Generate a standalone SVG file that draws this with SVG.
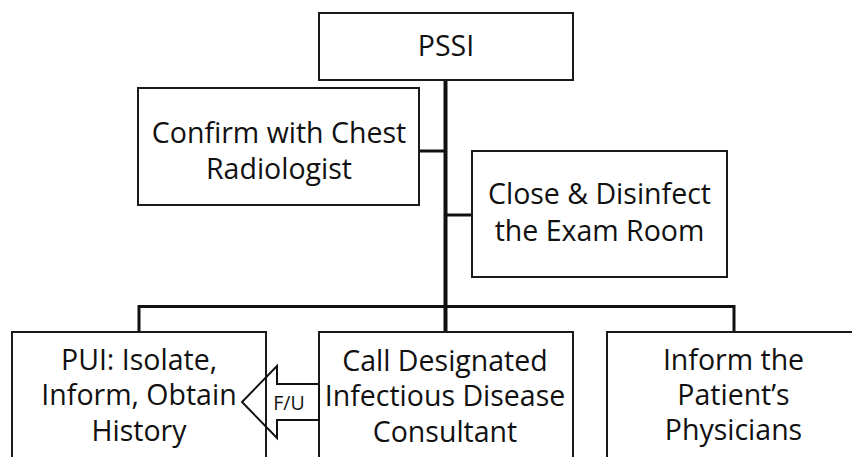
<svg xmlns="http://www.w3.org/2000/svg" width="852" height="457" viewBox="0 0 852 457">
<style>
.box{fill:#fff;stroke:#1a1a1a;stroke-width:2}
.t{font-family:"Open Sans","Noto Sans","DejaVu Sans",sans-serif;font-size:28.5px;fill:#111;text-anchor:middle}
.c{stroke:#111;fill:none}
.arrow{fill:none;stroke:#111;stroke-width:2;stroke-linejoin:miter}
.small{font-family:"Open Sans","Noto Sans","DejaVu Sans",sans-serif;font-size:19.5px;fill:#111;text-anchor:middle}
</style>
<rect width="852" height="457" fill="#fff"/>
<g id="connectors">
<line class="c" x1="445.5" y1="79" x2="445.5" y2="333" stroke-width="4"/>
<line class="c" x1="419" y1="151" x2="445" y2="151" stroke-width="3"/>
<line class="c" x1="445" y1="215" x2="472" y2="215" stroke-width="3"/>
<path class="c" d="M139 333 V306.5 H734 V333" stroke-width="3"/>
</g>
<g id="pssi">
<rect class="box" x="319" y="13" width="254" height="67"/>
<text class="t" x="446" y="56">PSSI</text>
</g>
<g id="confirm">
<rect class="box" x="138" y="88" width="281" height="117"/>
<text class="t" x="279" y="143">Confirm with Chest</text>
<text class="t" x="279" y="178.5">Radiologist</text>
</g>
<g id="close">
<rect class="box" x="472" y="151" width="255" height="126"/>
<text class="t" x="599.5" y="204">Close &amp; Disinfect</text>
<text class="t" x="599.5" y="240.5">the Exam Room</text>
</g>
<g id="pui">
<rect class="box" x="12" y="332" width="254" height="135"/>
<text class="t" x="139" y="369.5">PUI: Isolate,</text>
<text class="t" x="139" y="405">Inform, Obtain</text>
<text class="t" x="139" y="440.5">History</text>
</g>
<g id="call">
<rect class="box" x="319" y="332" width="254" height="135"/>
<text class="t" x="445" y="370.5">Call Designated</text>
<text class="t" x="445" y="406">Infectious Disease</text>
<text class="t" x="445" y="441.5">Consultant</text>
</g>
<g id="inform">
<rect class="box" x="607" y="332" width="254" height="135"/>
<text class="t" x="733.5" y="369.5">Inform the</text>
<text class="t" x="733.5" y="404.5">Patient’s</text>
<text class="t" x="733.5" y="440">Physicians</text>
</g>
<g id="fu-arrow">
<polygon class="arrow" points="319,384 277,384 277,366 242,402 277,438 277,420 319,420"/>
<text class="small" x="289" y="410">F/U</text>
</g>
</svg>
